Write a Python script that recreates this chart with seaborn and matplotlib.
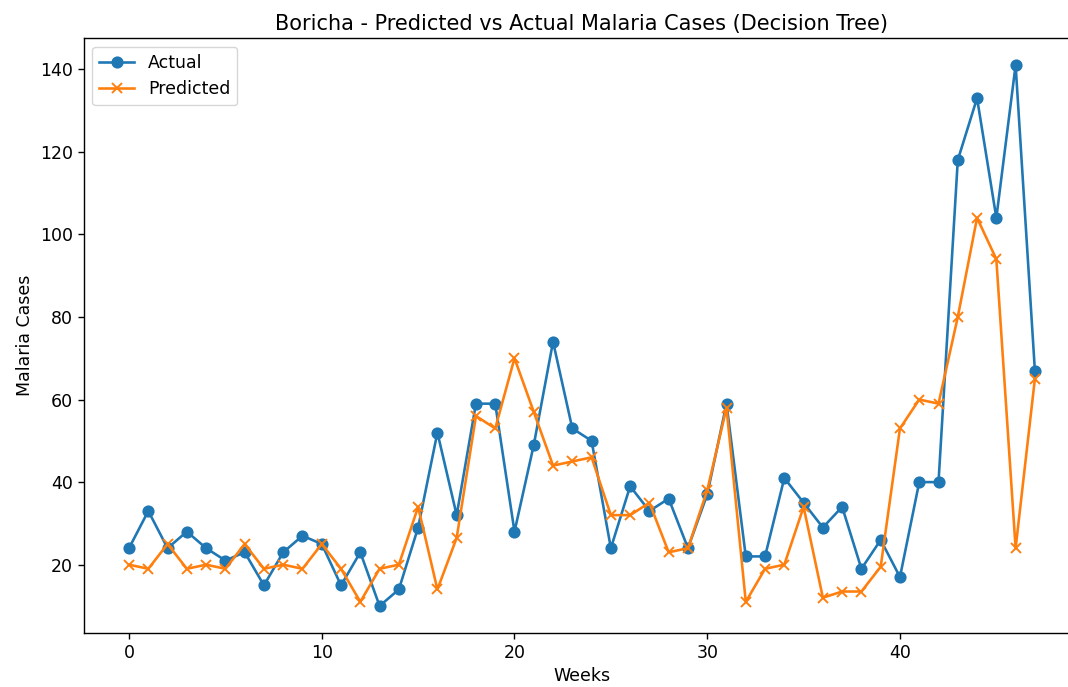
import matplotlib
matplotlib.use("Agg")
import matplotlib.pyplot as plt
import seaborn as sns
import numpy as np

weeks = list(range(48))
actual = [24, 33, 24, 28, 24, 21, 23, 15, 23, 27,
          25, 15, 23, 10, 14, 29, 52, 32, 59, 59,
          28, 49, 74, 53, 50, 24, 39, 33, 36, 24,
          37, 59, 22, 22, 41, 35, 29, 34, 19, 26,
          17, 40, 40, 118, 133, 104, 141, 67]
predicted = [20, 19, 25, 19, 20, 19, 25, 19, 20, 19,
             25, 19, 11, 19, 20, 34, 14, 26.5, 56, 53,
             70, 57, 44, 45, 46, 32, 32, 35, 23, 24,
             38, 58, 11, 19, 20, 34, 12, 13.5, 13.5, 19.5,
             53, 60, 59, 80, 104, 94, 24, 65]

title = "Boricha - Predicted vs Actual Malaria Cases (Decision Tree)"
xlabel = "Weeks"
ylabel = "Malaria Cases"

s = 1.25
plt.rcParams.update({
    "font.size": 10 * s,
    "axes.linewidth": 0.8 * s,
    "xtick.major.size": 3.5 * s,
    "ytick.major.size": 3.5 * s,
    "xtick.major.width": 0.8 * s,
    "ytick.major.width": 0.8 * s,
    "lines.linewidth": 1.5 * s,
})

fig = plt.figure(figsize=(10.68, 6.87), dpi=100)
ax = fig.add_axes([0.0784, 0.0786, 0.933, 0.866])

c1, c2 = "#1f77b4", "#ff7f0e"
sns.lineplot(x=weeks, y=actual, ax=ax, color=c1, marker="o", markersize=6 * s,
             markeredgecolor=c1, markeredgewidth=1 * s, linewidth=1.5 * s, label="Actual")
sns.lineplot(x=weeks, y=predicted, ax=ax, color=c2, marker="x", markersize=6 * s,
             markeredgecolor=c2, markeredgewidth=1.1 * s, linewidth=1.5 * s, label="Predicted")

ax.set_title(title, fontsize=12 * s)
ax.set_xlabel(xlabel, fontsize=10 * s)
ax.set_ylabel(ylabel, fontsize=10 * s)
ax.set_xticks([0, 10, 20, 30, 40])
ax.set_yticks([20, 40, 60, 80, 100, 120, 140])
ax.tick_params(labelsize=10 * s)
ax.legend(loc="upper left", fontsize=10 * s)

fig.savefig("out.png", dpi=100)
